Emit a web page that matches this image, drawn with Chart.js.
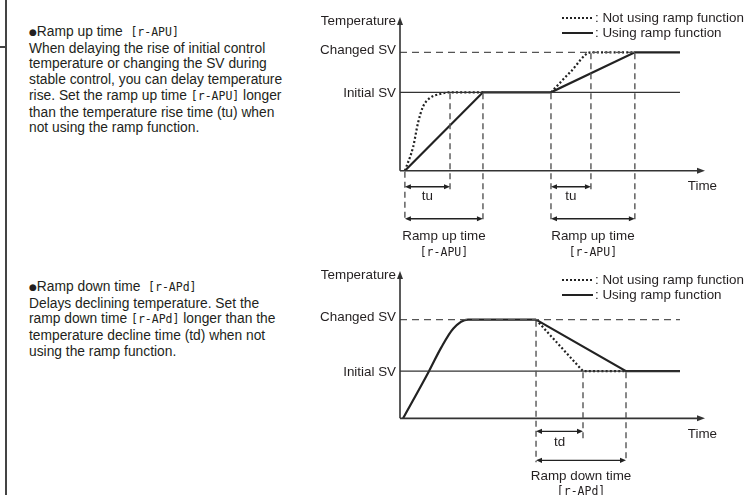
<!DOCTYPE html>
<html>
<head>
<meta charset="utf-8">
<script src="https://cdn.jsdelivr.net/npm/chart.js@4.4.1/dist/chart.umd.min.js"></script>
<style>
html, body { margin: 0; padding: 0; background: #fff; }
body { width: 747px; height: 495px; position: relative; overflow: hidden;
       font-family: "Liberation Sans", Arial, sans-serif; color: #231f20; }
.rule { position: absolute; left: 5px; top: 0; width: 1.5px; height: 495px; background: #444; }
.tick { position: absolute; left: 0; top: 46px; width: 6px; height: 1.5px; background: #444; }
.note { position: absolute; left: 29px; font-size: 13.8px; line-height: 15.7px; white-space: nowrap; }
.dot { font-family: "DejaVu Sans", sans-serif; font-size: 9px; vertical-align: 1px; }
.seg { font-family: "DejaVu Sans Mono", monospace; font-size: 11.5px; }
.box { position: absolute; left: 300px; width: 447px; }
</style>
</head>
<body>
<div class="rule"></div>
<div class="tick"></div>

<div class="note" style="top:24px">
<span class="dot">&#9679;</span>Ramp up time&nbsp; <span class="seg">[r-APU]</span><br>
When delaying the rise of initial control<br>
temperature or changing the SV during<br>
stable control, you can delay temperature<br>
rise. Set the ramp up time <span class="seg">[r-APU]</span> longer<br>
than the temperature rise time (tu) when<br>
not using the ramp function.
</div>

<div class="note" style="top:279px">
<span class="dot">&#9679;</span>Ramp down time&nbsp; <span class="seg">[r-APd]</span><br>
Delays declining temperature. Set the<br>
ramp down time <span class="seg">[r-APd]</span> longer than the<br>
temperature decline time (td) when not<br>
using the ramp function.
</div>

<div class="box" style="top:0;height:263px"><canvas id="upChart"></canvas></div>
<div class="box" style="top:262px;height:233px"><canvas id="downChart"></canvas></div>

<script>
// ---- ramp up diagram ----
const upLevelNames = ['Initial SV', 'Changed SV'];
const upLevelValues = [51, 77];
const upLevelEnds = [91.8, 77];
const upNoRampT = [1.6, 4.3, 5.9, 7.5, 9.8, 13.1, 16.4, 27.2, 38, 49.5, 56, 62.6, 77];
const upNoRampV = [0, 15.5, 31.1, 41.5, 47.3, 49.9, 51, 51, null, 51, 64.5, 77, 77];
const upRampT = [1.6, 27.2, 49.5, 77, 91.8];
const upRampV = [0, 51, 51, 77, 77];
const upGuideT = [1.6, 16.4, 27.2, 49.5, 62.6, 77];
const upGuideV = [0, 51, 51, 51, 77, 77];
const upSpanFrom = [1.6, 1.6, 49.5, 49.5];
const upSpanTo = [16.4, 27.2, 62.6, 77];
const upSpanLabel = ['tu', 'Ramp up time', 'tu', 'Ramp up time'];
const upSpanCode = ['', '[r-APU]', '', '[r-APU]'];
const upSpanRow = [0, 1, 0, 1];

// ---- ramp down diagram ----
const downLevelNames = ['Initial SV', 'Changed SV'];
const downLevelValues = [32, 67];
const downLevelEnds = [91.8, 91.8];
const downRiseT = [1.0, 9.5, 13.5, 17.5, 22.3, 44.6];
const downRiseV = [0, 32, 48, 61, 67, 67];
const downRampT = [44.6, 74.1, 91.8];
const downRampV = [67, 32, 32];
const downNoRampT = [44.6, 60, 74.1];
const downNoRampV = [67, 32, 32];
const downGuideT = [44.6, 60, 74.1];
const downGuideV = [67, 32, 32];
const downSpanFrom = [44.6, 44.6];
const downSpanTo = [60, 74.1];
const downSpanLabel = ['td', 'Ramp down time'];
const downSpanCode = ['', '[r-APd]'];
const downSpanRow = [0, 1];

const legendNames = [': Not using ramp function', ': Using ramp function'];

const INK = '#231f20';
const FONT = '13.4px "Liberation Sans", Arial, sans-serif';
const SEG = '11.5px "DejaVu Sans Mono", monospace';

function pts(t, v) {
    return t.map(function(x, i) { return { x: x, y: v[i] }; });
}

function head(ctx, x, y, dir, len, half) {
    ctx.beginPath();
    ctx.moveTo(x, y);
    if (dir === 'r') { ctx.lineTo(x - len, y - half); ctx.lineTo(x - len, y + half); }
    if (dir === 'l') { ctx.lineTo(x + len, y - half); ctx.lineTo(x + len, y + half); }
    if (dir === 'u') { ctx.lineTo(x - half, y + len); ctx.lineTo(x + half, y + len); }
    ctx.closePath();
    ctx.fill();
}

const diagram = {
    id: 'diagram',
    afterDatasetsDraw(chart, args, o) {
        const ctx = chart.ctx, a = chart.chartArea;
        const X = v => chart.scales.x.getPixelForValue(v);
        const Y = v => chart.scales.y.getPixelForValue(v);
        const y0 = Y(0), x0 = X(0);
        ctx.save();
        ctx.fillStyle = '#333';
        ctx.strokeStyle = '#333';

        // axes with arrows
        ctx.lineWidth = 1.6;
        ctx.beginPath();
        ctx.moveTo(x0, y0); ctx.lineTo(a.right - 5, y0);
        ctx.moveTo(x0, y0); ctx.lineTo(x0, a.top + 5);
        ctx.stroke();
        head(ctx, a.right, y0, 'r', 8, 3);
        head(ctx, x0, a.top, 'u', 8, 3);

        // guide lines
        ctx.setLineDash([6, 4]);
        ctx.lineWidth = 1.4;
        ctx.strokeStyle = '#555';
        o.guideT.forEach(function(t, i) {
            let row = 0;
            o.spanFrom.forEach(function(f, k) {
                if (f === t || o.spanTo[k] === t) row = Math.max(row, o.spanRow[k]);
            });
            ctx.beginPath();
            ctx.moveTo(X(t), Y(o.guideV[i]) + 1);
            ctx.lineTo(X(t), y0 + o.guideEnds[row]);
            ctx.stroke();
        });
        ctx.setLineDash([]);

        // dimension arrows and labels
        ctx.strokeStyle = '#222';
        ctx.fillStyle = '#222';
        ctx.lineWidth = 1.3;
        ctx.textAlign = 'center';
        ctx.textBaseline = 'middle';
        o.spanFrom.forEach(function(f, k) {
            const xa = X(f), xb = X(o.spanTo[k]);
            const ya = y0 + o.rowOffsets[o.spanRow[k]];
            ctx.beginPath(); ctx.moveTo(xa + 3, ya); ctx.lineTo(xb - 3, ya); ctx.stroke();
            head(ctx, xa, ya, 'l', 6, 2.6);
            head(ctx, xb, ya, 'r', 6, 2.6);
            const ly = y0 + o.labelOffsets[o.spanRow[k]];
            ctx.fillStyle = INK;
            ctx.font = FONT;
            ctx.fillText(o.spanLabel[k], (xa + xb) / 2, ly);
            if (o.spanCode[k]) {
                ctx.font = SEG;
                ctx.fillText(o.spanCode[k], (xa + xb) / 2, ly + 16);
            }
            ctx.fillStyle = '#222';
        });

        // axis titles and level labels
        ctx.fillStyle = INK;
        ctx.font = FONT;
        ctx.textAlign = 'right';
        ctx.fillText('Temperature', x0 - 4, a.top + 4);
        o.levelNames.forEach(function(n, i) {
            ctx.fillText(n, x0 - 4, Y(o.levelValues[i]) + (i === 1 ? -2 : 1));
        });
        ctx.fillText('Time', a.right + 12, y0 + 16);

        // legend
        const lx = 262, lw = 31;
        ctx.strokeStyle = '#222';
        ctx.lineWidth = 2;
        ctx.setLineDash([2, 2]);
        ctx.beginPath(); ctx.moveTo(lx, 18); ctx.lineTo(lx + lw, 18); ctx.stroke();
        ctx.setLineDash([]);
        ctx.beginPath(); ctx.moveTo(lx, 33); ctx.lineTo(lx + lw, 33); ctx.stroke();
        ctx.textAlign = 'left';
        ctx.fillText(legendNames[0], lx + lw + 2, 18);
        ctx.fillText(legendNames[1], lx + lw + 2, 33);
        ctx.restore();
    }
};

function levelSets(values, ends) {
    return [
        { data: pts([0, ends[0]], [values[0], values[0]]), borderColor: '#333', borderWidth: 1.3 },
        { data: pts([0, ends[1]], [values[1], values[1]]), borderColor: '#555', borderWidth: 1.3, borderDash: [7, 5] }
    ];
}

function makeChart(id, datasets, pad, yMin, extra) {
    new Chart(document.getElementById(id), {
        type: 'line',
        data: { datasets: datasets },
        options: {
            responsive: true,
            maintainAspectRatio: false,
            animation: false,
            events: [],
            layout: { padding: pad },
            elements: { point: { radius: 0 }, line: { tension: 0, borderCapStyle: 'butt' } },
            scales: {
                x: { type: 'linear', min: 0, max: 100, display: false },
                y: { type: 'linear', min: yMin, max: 100, display: false }
            },
            plugins: { legend: { display: false }, tooltip: { enabled: false }, diagram: extra }
        },
        plugins: [diagram]
    });
}

makeChart('upChart',
    levelSets(upLevelValues, upLevelEnds).concat([
        { data: pts(upNoRampT, upNoRampV), borderColor: '#222', borderWidth: 2.2, borderDash: [2, 2.2], cubicInterpolationMode: 'monotone' },
        { data: pts(upRampT, upRampV), borderColor: '#222', borderWidth: 2.2 }
    ]),
    { left: 100, right: 42, top: 17, bottom: 0 }, -60,
    {
        levelNames: upLevelNames, levelValues: upLevelValues,
        guideT: upGuideT, guideV: upGuideV,
        spanFrom: upSpanFrom, spanTo: upSpanTo, spanLabel: upSpanLabel, spanCode: upSpanCode, spanRow: upSpanRow,
        rowOffsets: [16, 48], guideEnds: [19.5, 51], labelOffsets: [26, 66]
    });

makeChart('downChart',
    levelSets(downLevelValues, downLevelEnds).concat([
        { data: pts(downNoRampT, downNoRampV), borderColor: '#222', borderWidth: 2.2, borderDash: [2, 2.2] },
        { data: pts(downRiseT, downRiseV), borderColor: '#222', borderWidth: 2.2, cubicInterpolationMode: 'monotone' },
        { data: pts(downRampT, downRampV), borderColor: '#222', borderWidth: 2.2 }
    ]),
    { left: 100, right: 42, top: 9, bottom: 0 }, -52,
    {
        levelNames: downLevelNames, levelValues: downLevelValues,
        guideT: downGuideT, guideV: downGuideV,
        spanFrom: downSpanFrom, spanTo: downSpanTo, spanLabel: downSpanLabel, spanCode: downSpanCode, spanRow: downSpanRow,
        rowOffsets: [13, 42], guideEnds: [20, 44], labelOffsets: [24, 58]
    });
</script>
</body>
</html>
